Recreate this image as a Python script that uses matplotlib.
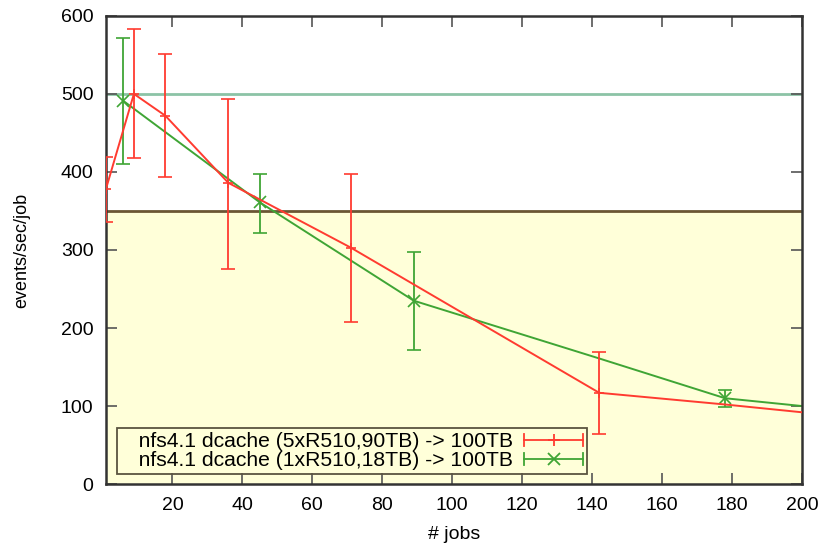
import matplotlib
matplotlib.use('Agg')
import matplotlib.pyplot as plt
from matplotlib.legend_handler import HandlerBase
from matplotlib.lines import Line2D

plt.rcParams['font.family'] = ['Liberation Sans', 'DejaVu Sans']

# 5xR510 (red) series
red_jobs = [1, 9, 18, 36, 71, 142, 178, 200]
red_rate = [378, 500, 472, 386, 303, 117, 102, 92]
red_err_jobs = [1, 9, 18, 36, 71, 142]
red_err_rate = [378, 500, 472, 386, 303, 117]
red_err_lo = [42, 82, 79, 111, 95, 53]
red_err_hi = [41, 83, 79, 108, 95, 52]

# 1xR510 (green) series
green_jobs = [6, 45, 89, 142, 178, 200]
green_rate = [491, 361, 235, 161, 110, 100]
green_err_jobs = [6, 45, 89, 178]
green_err_rate = [491, 361, 235, 110]
green_err_lo = [81, 39, 63, 11]
green_err_hi = [80, 37, 62, 11]

labels = ['nfs4.1 dcache (5xR510,90TB) -> 100TB',
          'nfs4.1 dcache (1xR510,18TB) -> 100TB']

target_line = 500
shade_level = 350

RED = '#ff3b30'
GREEN = '#3fa535'


class ErrHandler(HandlerBase):
    def __init__(self, color, marker):
        super().__init__()
        self.color = color
        self.marker = marker

    def create_artists(self, legend, orig_handle, xdescent, ydescent,
                       width, height, fontsize, trans):
        y = height / 2 - ydescent
        x0, x1 = -xdescent, width - xdescent
        cap = height * 0.4
        arts = [
            Line2D([x0, x1], [y, y], color=self.color, lw=1.3),
            Line2D([x0, x0], [y - cap, y + cap], color=self.color, lw=1.3),
            Line2D([x1, x1], [y - cap, y + cap], color=self.color, lw=1.3),
            Line2D([(x0 + x1) / 2], [y], color=self.color, marker=self.marker,
                   markersize=9 if self.marker == 'x' else 8, mew=1.3, lw=0),
        ]
        for a in arts:
            a.set_transform(trans)
        return arts


fig = plt.figure(figsize=(8.21, 5.47), dpi=100)
ax = fig.add_axes([0.129, 0.115, 0.848, 0.856])

ax.set_xlim(1, 200)
ax.set_ylim(0, 600)

ax.axhspan(0, shade_level, color='#ffffd9', zorder=0)
ax.axhline(shade_level, color='#6b5634', lw=2, zorder=1)
ax.axhline(target_line, color='#8cc3a6', lw=2, zorder=1)

ax.plot(red_jobs, red_rate, color=RED, lw=1.4, zorder=3)
ax.errorbar(red_err_jobs, red_err_rate, yerr=[red_err_lo, red_err_hi],
            fmt='+', color=RED, ms=7, mew=1.2, elinewidth=1.3,
            capsize=5, capthick=1.3, zorder=3)

ax.plot(green_jobs, green_rate, color=GREEN, lw=1.4, zorder=2)
ax.errorbar(green_err_jobs, green_err_rate, yerr=[green_err_lo, green_err_hi],
            fmt='x', color=GREEN, ms=8, mew=1.2, elinewidth=1.3,
            capsize=5, capthick=1.3, zorder=2)

ax.set_xticks(range(20, 201, 20))
ax.set_yticks(range(0, 601, 100))
ax.tick_params(direction='in', length=8, width=1.2, color='#555555',
               labelsize=14, top=True, right=True, pad=9)
for s in ax.spines.values():
    s.set_linewidth(1.8)
    s.set_color('#333333')

ax.set_xlabel('# jobs', fontsize=14, labelpad=9)
ax.set_ylabel('events/sec/job', fontsize=13, labelpad=22)

h_red = Line2D([], [], color=RED)
h_green = Line2D([], [], color=GREEN)
leg = ax.legend([h_red, h_green], ['   ' + t for t in labels],
                handler_map={h_red: ErrHandler(RED, '+'),
                             h_green: ErrHandler(GREEN, 'x')},
                loc='lower left', bbox_to_anchor=(0.016, 0.021),
                markerfirst=False, fontsize=15.2, handlelength=2.8,
                handletextpad=0.5, borderpad=0.2, labelspacing=0.0,
                borderaxespad=0, fancybox=False, facecolor='none',
                edgecolor='#5a5440')
leg.get_frame().set_linewidth(1.3)
leg.get_frame().set_alpha(None)

fig.savefig('out.png', dpi=100)
